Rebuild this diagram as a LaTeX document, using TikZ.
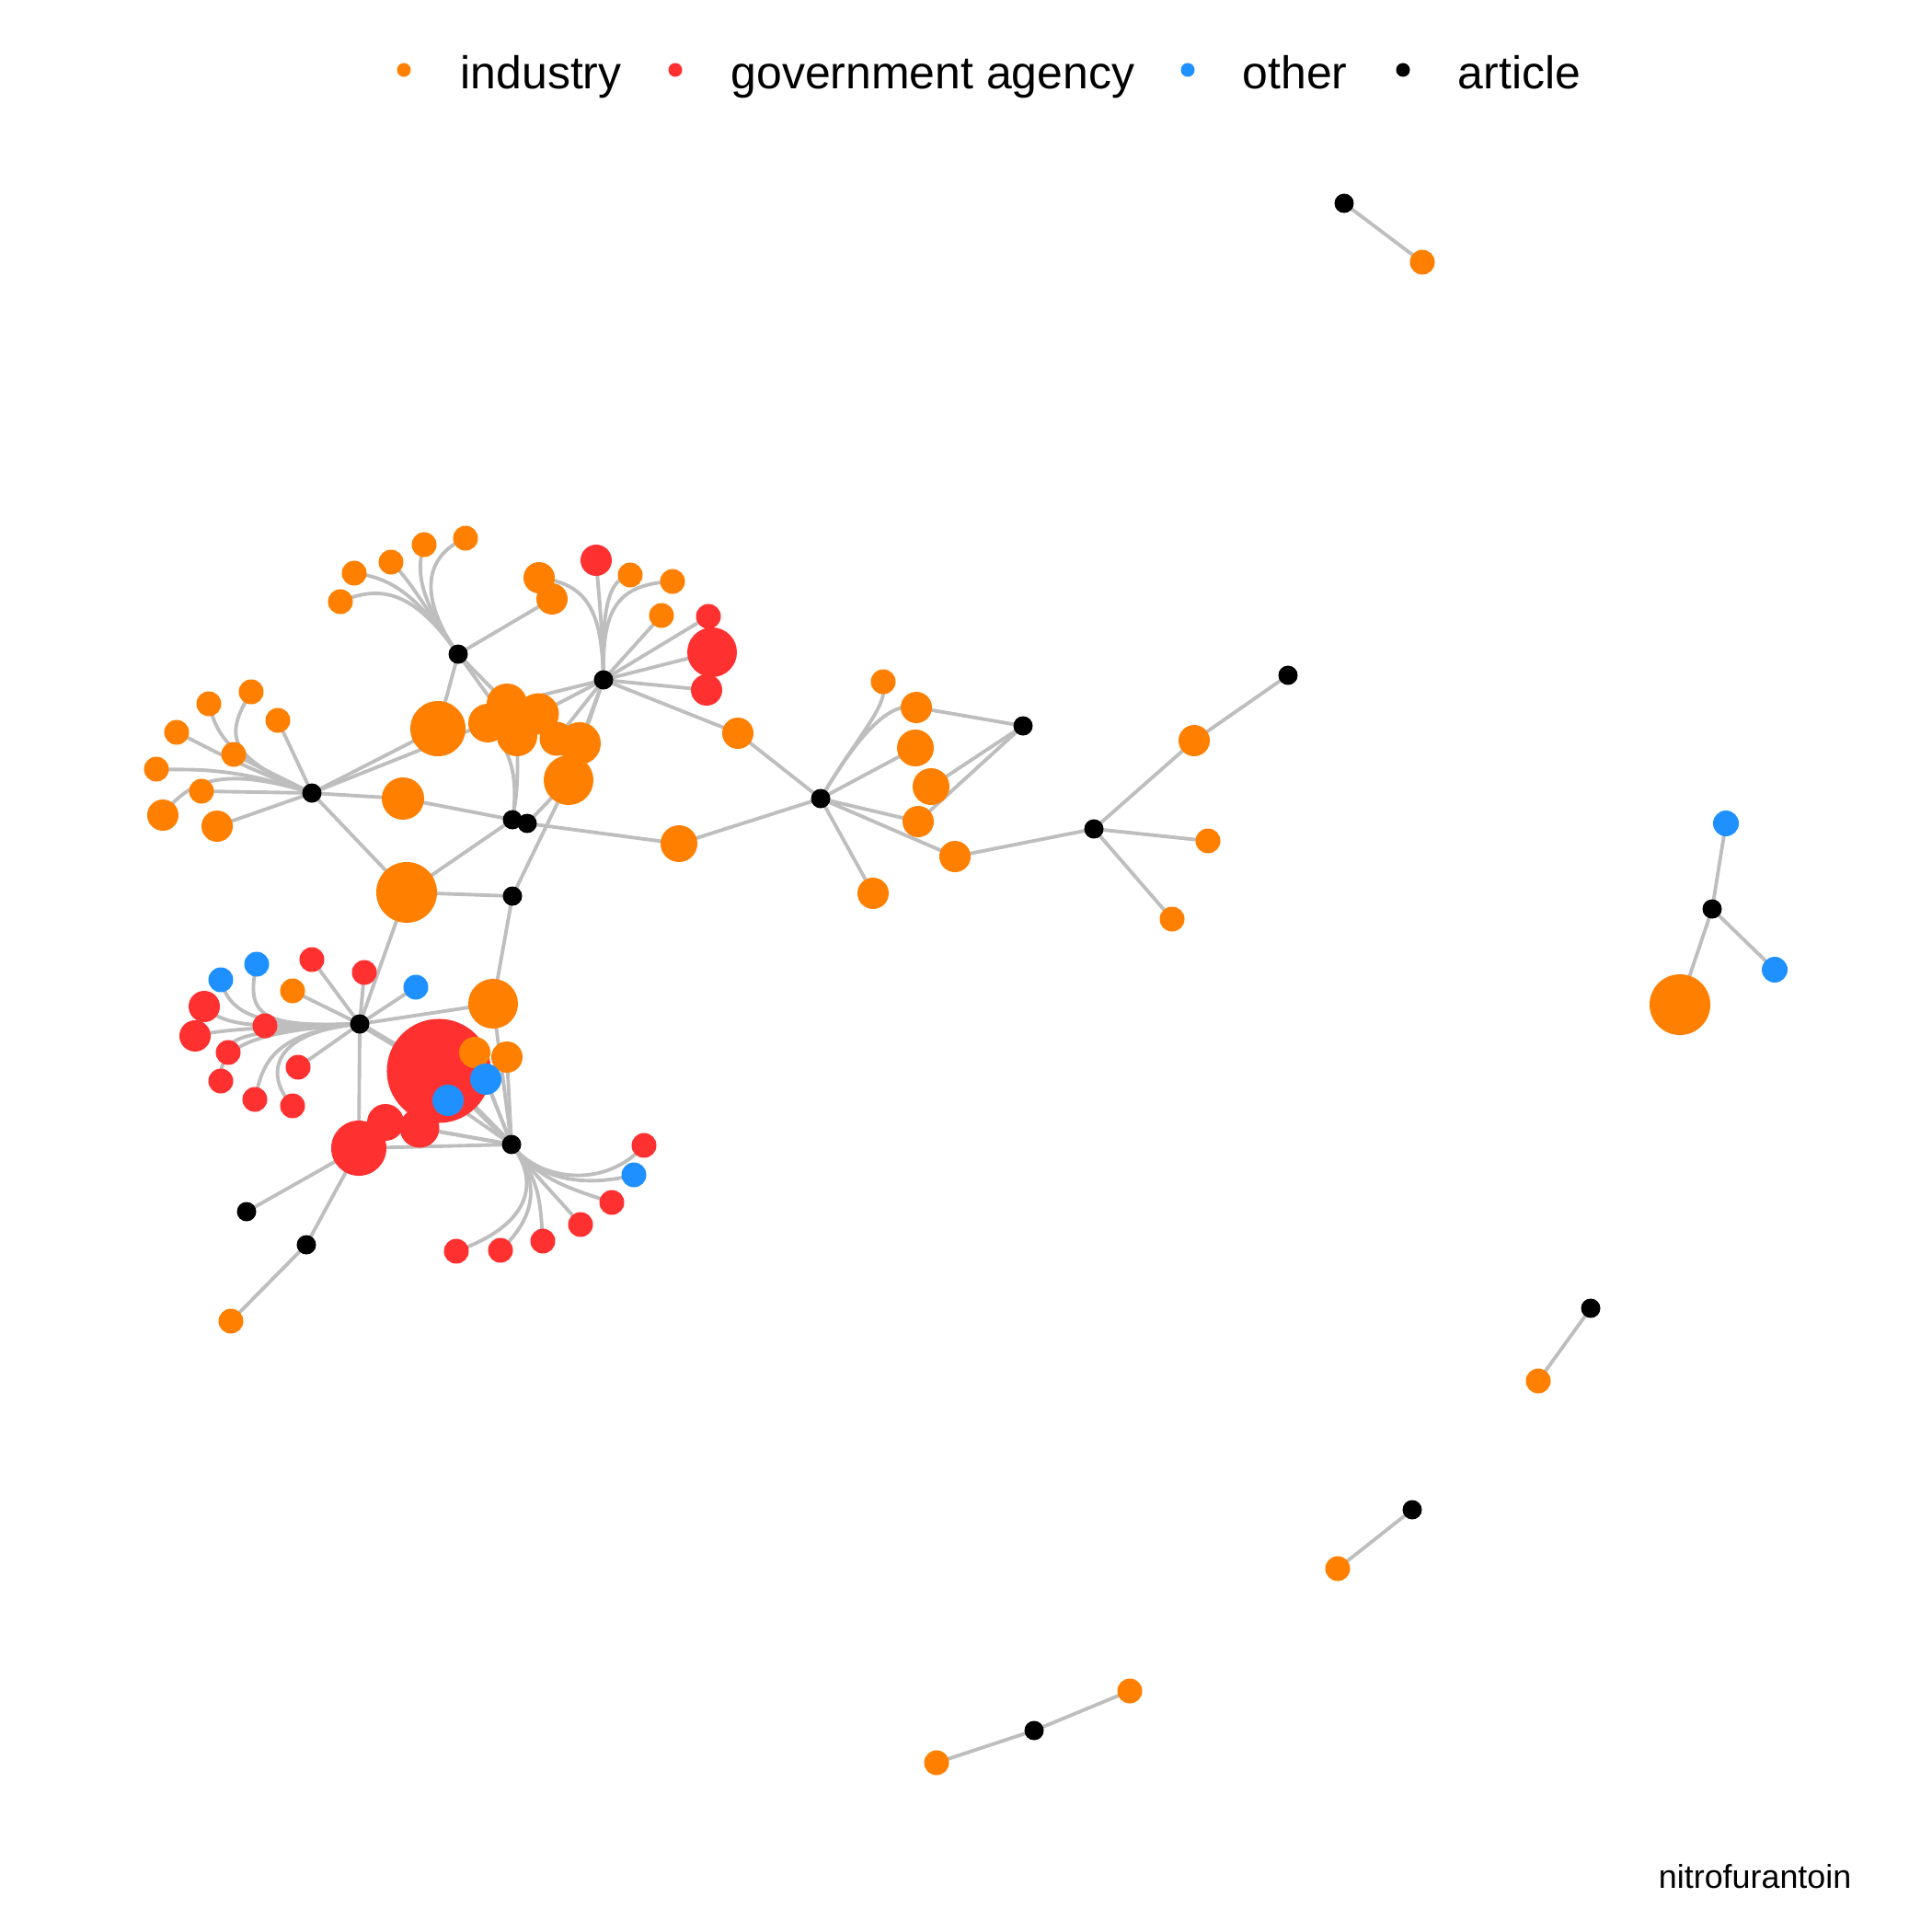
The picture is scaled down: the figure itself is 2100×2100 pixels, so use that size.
\documentclass[tikz,border=0pt]{standalone}
\usepackage{fontspec}
\setmainfont{Liberation Sans}
\usetikzlibrary{backgrounds}
\definecolor{indC}{HTML}{FF7F00}
\definecolor{govC}{HTML}{FF3030}
\definecolor{othC}{HTML}{1E90FF}
\definecolor{edgeC}{HTML}{BEBEBE}
\begin{document}
\begin{tikzpicture}[x=0.01cm,y=-0.01cm,
  nd/.style={circle, inner sep=0pt, outer sep=0pt, draw=none},
  ind/.style={nd, fill=indC},
  gov/.style={nd, fill=govC},
  oth/.style={nd, fill=othC},
  art/.style={nd, fill=black, minimum size=0.21cm},
  ed/.style={draw=edgeC, line width=1.1pt},
  legdot/.style={nd, minimum size=0.15cm},
  legtxt/.style={anchor=base west, inner sep=0pt, font=\fontsize{14.2}{17}\selectfont},
]
\path[use as bounding box] (0,0) rectangle (2100,2100);

% ---------- legend ----------
\node[legdot, fill=indC] (lgi) at (439,76) {};
\node[legtxt] (lgit) at (500,97) {industry};
\node[legdot, fill=govC] (lgg) at (734,76) {};
\node[legtxt] (lggt) at (794,97) {government agency};
\node[legdot, fill=othC] (lgo) at (1291,76) {};
\node[legtxt] (lgot) at (1350,97) {other};
\node[legdot, fill=black] (lga) at (1525,76) {};
\node[legtxt] (lgat) at (1584,97) {article};

\node[anchor=base east, inner sep=0pt, font=\fontsize{10.2}{12}\selectfont] (cap) at (2013,2052) {nitrofurantoin};

% ---------- upper cluster: orange leaves ----------
\node[ind, minimum size=0.27cm] (o1) at (273,752) {};
\node[ind, minimum size=0.27cm] (o2) at (227,765) {};
\node[ind, minimum size=0.27cm] (o3) at (192,796) {};
\node[ind, minimum size=0.27cm] (o4) at (170,836) {};
\node[ind, minimum size=0.34cm] (o5) at (177,886) {};
\node[ind, minimum size=0.27cm] (o6) at (219,860) {};
\node[ind, minimum size=0.27cm] (o7) at (254,820) {};
\node[ind, minimum size=0.27cm] (o8) at (302,783) {};
\node[ind, minimum size=0.34cm] (o9) at (236,898) {};

\node[ind, minimum size=0.27cm] (t1) at (370,654) {};
\node[ind, minimum size=0.27cm] (t2) at (385,623) {};
\node[ind, minimum size=0.27cm] (t3) at (425,611) {};
\node[ind, minimum size=0.27cm] (t4) at (461,592) {};
\node[ind, minimum size=0.27cm] (t5) at (506,585) {};

\node[ind, minimum size=0.60cm] (c0) at (476,792) {};
\node[ind, minimum size=0.46cm] (c1) at (438,868) {};
\node[ind, minimum size=0.66cm] (c2) at (442,970) {};

\node[ind, minimum size=0.44cm] (k1) at (551,765) {};
\node[ind, minimum size=0.42cm] (k2) at (530,786) {};
\node[ind, minimum size=0.44cm] (k3) at (562,800) {};
\node[ind, minimum size=0.45cm] (k4) at (585,776) {};
\node[ind, minimum size=0.37cm] (k5) at (605,803) {};
\node[ind, minimum size=0.46cm] (k6) at (630,808) {};
\node[ind, minimum size=0.54cm] (k7) at (618,848) {};

\node[ind, minimum size=0.34cm] (u1) at (586,628) {};
\node[ind, minimum size=0.34cm] (u2) at (600,651) {};
\node[ind, minimum size=0.27cm] (u3) at (685,625) {};
\node[ind, minimum size=0.27cm] (u4) at (731,632) {};
\node[ind, minimum size=0.27cm] (u5) at (719,669) {};
\node[gov, minimum size=0.34cm] (r1) at (648,609) {};
\node[gov, minimum size=0.27cm] (r2) at (770,670) {};
\node[gov, minimum size=0.54cm] (r3) at (774,709) {};
\node[gov, minimum size=0.34cm] (r4) at (768,750) {};
\node[ind, minimum size=0.34cm] (m1) at (802,797) {};
\node[ind, minimum size=0.40cm] (m2) at (738,917) {};

% ---------- middle right ----------
\node[ind, minimum size=0.27cm] (p1) at (960,741) {};
\node[ind, minimum size=0.34cm] (p2) at (996,769) {};
\node[ind, minimum size=0.40cm] (p3) at (995,813) {};
\node[ind, minimum size=0.40cm] (p4) at (1012,855) {};
\node[ind, minimum size=0.34cm] (p5) at (998,893) {};
\node[ind, minimum size=0.34cm] (p6) at (1038,931) {};
\node[ind, minimum size=0.34cm] (p7) at (949,971) {};
\node[ind, minimum size=0.34cm] (p8) at (1298,805) {};
\node[ind, minimum size=0.27cm] (p9) at (1313,914) {};
\node[ind, minimum size=0.27cm] (p10) at (1274,999) {};

% ---------- separate components ----------
\node[ind, minimum size=0.27cm] (q1) at (1546,285) {};
\node[ind, minimum size=0.66cm] (q2) at (1826,1092) {};
\node[ind, minimum size=0.27cm] (q3) at (1672,1501) {};
\node[ind, minimum size=0.27cm] (q4) at (1454,1705) {};
\node[ind, minimum size=0.27cm] (q5) at (1228,1838) {};
\node[ind, minimum size=0.27cm] (q6) at (1018,1916) {};
\node[oth, minimum size=0.28cm] (q7) at (1876,895) {};
\node[oth, minimum size=0.28cm] (q8) at (1929,1054) {};

% ---------- lower cluster ----------
\node[oth, minimum size=0.27cm] (l1) at (240,1065) {};
\node[oth, minimum size=0.27cm] (l2) at (279,1048) {};
\node[gov, minimum size=0.27cm] (l3) at (339,1043) {};
\node[gov, minimum size=0.27cm] (l4) at (396,1057) {};
\node[oth, minimum size=0.27cm] (l5) at (452,1073) {};
\node[ind, minimum size=0.27cm] (l6) at (318,1077) {};
\node[gov, minimum size=0.34cm] (l7) at (222,1094) {};
\node[gov, minimum size=0.34cm] (l8) at (212,1126) {};
\node[gov, minimum size=0.27cm] (l9) at (288,1115) {};
\node[gov, minimum size=0.27cm] (l10) at (248,1144) {};
\node[gov, minimum size=0.27cm] (l11) at (240,1175) {};
\node[gov, minimum size=0.27cm] (l12) at (277,1195) {};
\node[gov, minimum size=0.27cm] (l13) at (318,1202) {};
\node[gov, minimum size=0.27cm] (l14) at (324,1160) {};

\node[ind, minimum size=0.54cm] (g1) at (536,1091) {};
\node[gov, minimum size=0.40cm] (g7) at (419,1220) {};
\node[gov, minimum size=0.43cm] (g6) at (456,1226) {};
\node[gov, minimum size=1.13cm] (g0) at (477,1164) {};
\node[ind, minimum size=0.34cm] (g2) at (516,1144) {};
\node[ind, minimum size=0.34cm] (g3) at (551,1149) {};
\node[oth, minimum size=0.34cm] (g4) at (528,1173) {};
\node[oth, minimum size=0.34cm] (g5) at (487,1196) {};
\node[gov, minimum size=0.60cm] (g8) at (390,1248) {};
\node[ind, minimum size=0.27cm] (g9) at (251,1436) {};

\node[gov, minimum size=0.27cm] (f1) at (700,1245) {};
\node[oth, minimum size=0.27cm] (f2) at (689,1277) {};
\node[gov, minimum size=0.27cm] (f3) at (665,1307) {};
\node[gov, minimum size=0.27cm] (f4) at (631,1331) {};
\node[gov, minimum size=0.27cm] (f5) at (590,1349) {};
\node[gov, minimum size=0.27cm] (f6) at (544,1359) {};
\node[gov, minimum size=0.27cm] (f7) at (496,1360) {};

% ---------- articles ----------
\node[art] (A1) at (339,862) {};
\node[art] (A2) at (498,711) {};
\node[art] (A3) at (656,739) {};
\node[art] (A4) at (557,891) {};
\node[art] (A5) at (573,895) {};
\node[art] (A6) at (557,974) {};
\node[art] (A7) at (892,868) {};
\node[art] (A8) at (1112,789) {};
\node[art] (A9) at (1189,901) {};
\node[art] (A10) at (1400,734) {};
\node[art] (A11) at (1461,221) {};
\node[art] (A12) at (1861,988) {};
\node[art] (A13) at (1729,1422) {};
\node[art] (A14) at (1535,1641) {};
\node[art] (A15) at (1124,1881) {};
\node[art] (B1) at (391,1113) {};
\node[art] (B2) at (556,1244) {};
\node[art] (B3) at (268,1317) {};
\node[art] (B4) at (333,1353) {};

% ---------- edges ----------
\begin{scope}[on background layer]
% A1
\draw[ed] (A1.center) .. controls (245,822) and (244,800) .. (o1.center);
\draw[ed] (A1.center) .. controls (245,822) and (236,798) .. (o2.center);
\draw[ed] (A1.center) .. controls (245,826) and (226,812) .. (o3.center);
\draw[ed] (A1.center) .. controls (243,830) and (200,838) .. (o4.center);
\draw[ed] (A1.center) .. controls (243,832) and (205,848) .. (o5.center);
\draw[ed] (A1.center) -- (o6.center);
\draw[ed] (A1.center) -- (o7.center);
\draw[ed] (A1.center) -- (o8.center);
\draw[ed] (A1.center) -- (o9.center);
\draw[ed] (A1.center) -- (c0.center);
\draw[ed] (A1.center) -- (c1.center);
\draw[ed] (A1.center) -- (c2.center);
\draw[ed] (A1.center) -- (k2.center);
% A2
\draw[ed] (A2.center) .. controls (455,650) and (420,632) .. (t1.center);
\draw[ed] (A2.center) .. controls (455,650) and (428,628) .. (t2.center);
\draw[ed] (A2.center) .. controls (455,650) and (445,630) .. (t3.center);
\draw[ed] (A2.center) .. controls (455,650) and (452,620) .. (t4.center);
\draw[ed] (A2.center) .. controls (455,650) and (460,605) .. (t5.center);
\draw[ed] (A2.center) -- (c0.center);
\draw[ed] (A2.center) -- (k1.center);
\draw[ed] (A2.center) -- (k3.center);
\draw[ed] (A2.center) -- (u2.center);
% A3
\draw[ed] (A3.center) .. controls (654,665) and (650,640) .. (r1.center);
\draw[ed] (A3.center) .. controls (654,665) and (640,635) .. (u1.center);
\draw[ed] (A3.center) .. controls (654,665) and (660,630) .. (u3.center);
\draw[ed] (A3.center) .. controls (654,665) and (668,635) .. (u4.center);
\draw[ed] (A3.center) -- (u5.center);
\draw[ed] (A3.center) -- (r2.center);
\draw[ed] (A3.center) -- (r3.center);
\draw[ed] (A3.center) -- (r4.center);
\draw[ed] (A3.center) -- (m1.center);
\draw[ed] (A3.center) -- (k1.center);
\draw[ed] (A3.center) -- (k4.center);
\draw[ed] (A3.center) -- (k5.center);
\draw[ed] (A3.center) -- (k6.center);
\draw[ed] (A3.center) -- (k7.center);
% A4, A5, A6
\draw[ed] (A4.center) -- (c1.center);
\draw[ed] (A4.center) -- (c2.center);
\draw[ed] (A4.center) .. controls (565,850) and (562,820) .. (k3.center);
\draw[ed] (A4.center) .. controls (565,840) and (552,812) .. (k2.center);
\draw[ed] (A5.center) -- (k7.center);
\draw[ed] (A5.center) -- (m2.center);
\draw[ed] (A6.center) -- (c2.center);
\draw[ed] (A6.center) -- (k7.center);
\draw[ed] (A6.center) -- (g1.center);
% A7, A8, A9, A10
\draw[ed] (A7.center) -- (m1.center);
\draw[ed] (A7.center) -- (m2.center);
\draw[ed] (A7.center) .. controls (935,795) and (966,768) .. (p1.center);
\draw[ed] (A7.center) .. controls (935,795) and (968,762) .. (p2.center);
\draw[ed] (A7.center) -- (p3.center);
\draw[ed] (A7.center) -- (p5.center);
\draw[ed] (A7.center) -- (p6.center);
\draw[ed] (A7.center) -- (p7.center);
\draw[ed] (A8.center) -- (p2.center);
\draw[ed] (A8.center) -- (p4.center);
\draw[ed] (A8.center) -- (p5.center);
\draw[ed] (A9.center) -- (p6.center);
\draw[ed] (A9.center) -- (p8.center);
\draw[ed] (A9.center) -- (p9.center);
\draw[ed] (A9.center) -- (p10.center);
\draw[ed] (A10.center) -- (p8.center);
% separate components
\draw[ed] (A11.center) -- (q1.center);
\draw[ed] (A12.center) -- (q7.center);
\draw[ed] (A12.center) -- (q8.center);
\draw[ed] (A12.center) -- (q2.center);
\draw[ed] (A13.center) -- (q3.center);
\draw[ed] (A14.center) -- (q4.center);
\draw[ed] (A15.center) -- (q5.center);
\draw[ed] (A15.center) -- (q6.center);
% B1
\draw[ed] (B1.center) -- (c2.center);
\draw[ed] (B1.center) -- (l3.center);
\draw[ed] (B1.center) -- (l4.center);
\draw[ed] (B1.center) -- (l5.center);
\draw[ed] (B1.center) -- (l6.center);
\draw[ed] (B1.center) -- (l9.center);
\draw[ed] (B1.center) -- (l14.center);
\draw[ed] (B1.center) .. controls (285,1117) and (250,1105) .. (l1.center);
\draw[ed] (B1.center) .. controls (285,1117) and (266,1105) .. (l2.center);
\draw[ed] (B1.center) .. controls (290,1117) and (245,1118) .. (l7.center);
\draw[ed] (B1.center) .. controls (290,1117) and (245,1118) .. (l8.center);
\draw[ed] (B1.center) .. controls (285,1120) and (245,1125) .. (l10.center);
\draw[ed] (B1.center) .. controls (285,1120) and (235,1135) .. (l11.center);
\draw[ed] (B1.center) .. controls (292,1122) and (285,1160) .. (l12.center);
\draw[ed] (B1.center) .. controls (292,1122) and (288,1170) .. (l13.center);
\draw[ed] (B1.center) -- (g1.center);
\draw[ed, line width=1.7pt] (B1.center) -- (g0.center);
\draw[ed] (B1.center) -- (g8.center);
% B2
\draw[ed] (B2.center) -- (g1.center);
\draw[ed] (B2.center) -- (g2.center);
\draw[ed] (B2.center) -- (g3.center);
\draw[ed] (B2.center) -- (g4.center);
\draw[ed] (B2.center) -- (g5.center);
\draw[ed, line width=1.7pt] (B2.center) -- (g0.center);
\draw[ed] (B2.center) -- (g6.center);
\draw[ed] (B2.center) -- (g7.center);
\draw[ed] (B2.center) -- (g8.center);
\draw[ed] (B2.center) .. controls (586,1285) and (660,1292) .. (f1.center);
\draw[ed] (B2.center) .. controls (586,1285) and (640,1290) .. (f2.center);
\draw[ed] (B2.center) .. controls (586,1283) and (620,1292) .. (f3.center);
\draw[ed] (B2.center) .. controls (586,1283) and (600,1295) .. (f4.center);
\draw[ed] (B2.center) .. controls (586,1283) and (587,1300) .. (f5.center);
\draw[ed] (B2.center) .. controls (586,1283) and (585,1320) .. (f6.center);
\draw[ed] (B2.center) .. controls (586,1283) and (580,1330) .. (f7.center);
% B3, B4
\draw[ed] (B3.center) -- (g8.center);
\draw[ed] (B4.center) -- (g8.center);
\draw[ed] (B4.center) -- (g9.center);
\end{scope}
\end{tikzpicture}
\end{document}
